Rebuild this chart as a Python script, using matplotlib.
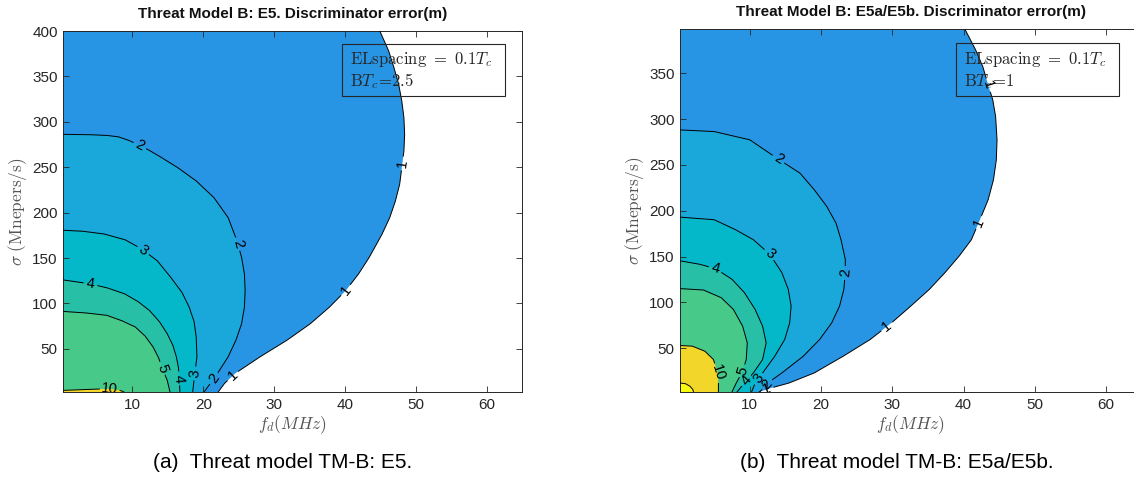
import numpy as np
import matplotlib
matplotlib.use("Agg")
import matplotlib.pyplot as plt
from matplotlib.path import Path
from matplotlib.patches import Polygon, Rectangle
from matplotlib.transforms import IdentityTransform

plt.rcParams["mathtext.fontset"] = "cm"
plt.rcParams["font.family"] = ["Liberation Sans", "DejaVu Sans"]

# ---------------------------------------------------------------- data
FD_TICKS = [10, 20, 30, 40, 50, 60]
SIGMA_TICKS_A = [50, 100, 150, 200, 250, 300, 350, 400]
SIGMA_TICKS_B = [50, 100, 150, 200, 250, 300, 350]
LEVELS = [1, 2, 3, 4, 5, 10, 20]
BAND_COLORS = {1: "#2894e4", 2: "#1aa8da", 3: "#05b8c9", 4: "#27bfa6",
               5: "#47c98a", 10: "#f3d62a", 20: "#f9fa12"}

# E5 (BTc = 2.5): iso-error curves, (f_d [MHz], sigma [Mnepers/s])
E5_C1 = [(44.9, 400), (46.15, 378), (46.9, 359.6), (47.56, 341.3), (48.0, 322.9),
         (48.3, 304.6), (48.4, 286.2), (48.3, 267.9), (48.0, 249.5), (47.7, 231.2),
         (47.1, 212.8), (46.3, 194.5), (45.2, 176.1), (44.7, 169), (43.4, 150.7),
         (41.9, 132.5), (40.1, 114.2), (37.8, 96), (35.1, 77.7), (31.8, 59.5),
         (28.0, 41.2), (24.5, 23), (23.0, 12), (22.1, 2.5)]
E5_C2 = [(0.25, 286.2), (4.0, 285.8), (6.4, 285), (8.0, 283.5), (9.5, 279.5),
         (10.9, 274.5), (12.4, 268.5), (13.9, 261.6), (16.4, 249.5), (19.0, 234.9),
         (21.5, 216.5), (23.5, 194.5), (24.75, 169), (25.4, 150.7), (25.8, 132.5),
         (25.9, 114.2), (25.8, 96), (25.4, 77.7), (24.6, 59.5), (23.5, 41.2),
         (22.0, 23), (21.0, 12), (20.1, 2.5)]
E5_C3 = [(0.25, 180.6), (3.0, 179.5), (6.0, 176.5), (9.0, 170), (11.3, 160),
         (13.5, 147), (15.4, 128.8), (17.0, 112), (18.0, 96), (18.7, 80),
         (19.0, 63), (19.1, 41), (18.8, 23), (18.5, 2.5)]
E5_C4 = [(0.25, 125.9), (4.1, 121.5), (6.5, 117), (8.9, 110.6), (10.8, 102),
         (12.4, 92.3), (13.8, 80), (14.9, 66.8), (15.7, 54), (16.2, 41.2),
         (16.5, 29), (16.6, 17.5), (16.7, 2.5)]
E5_C5 = [(0.25, 91.2), (3.5, 89.5), (6.4, 86.9), (8.5, 81), (10.4, 74.1),
         (11.8, 64), (12.9, 52.2), (13.7, 40), (14.2, 28.5), (14.9, 15.7), (15.3, 2.5)]
E5_C10 = [(0.25, 4.3), (2.0, 4.8), (4.0, 5.4), (5.5, 5.8), (6.8, 5.8),
          (7.8, 5.0), (8.5, 3.6), (8.8, 2.5)]
E5_LABELS = [(2, 10.9, 271.6), (1, 48.2, 254), (2, 24.7, 165), (3, 11.3, 156),
             (4, 4.1, 121.5), (1, 40.2, 114), (5, 14.2, 28.5), (4, 16.6, 17.5),
             (3, 18.7, 23), (2, 21.2, 19), (1, 24.3, 19), (10, 6.8, 5.7)]

# E5a/E5b (BTc = 1)
E5AB_C1 = [(40.2, 398), (41.7, 375.4), (42.7, 357.3), (43.45, 337.3), (44.1, 321),
           (44.5, 302.8), (44.7, 277.4), (44.6, 255.6), (44.2, 233.8), (43.45, 212),
           (42.3, 190.2), (41.1, 168.4), (39.4, 150.7), (37.4, 132.5), (35.2, 114.2),
           (32.6, 96), (29.9, 77.7), (26.9, 59.5), (23.1, 41.2), (19.05, 23),
           (15.5, 12), (13.0, 6.6), (11.3, 2.2)]
E5AB_C2 = [(0.25, 288.2), (5.0, 286.4), (10.0, 277.4), (14.0, 256.3), (17.05, 241),
           (19.05, 222.9), (20.8, 204.7), (22.1, 186.5), (22.8, 168.4), (23.4, 147),
           (23.4, 132.5), (23.2, 114.2), (22.6, 96), (21.5, 77.7), (19.8, 59.5),
           (17.5, 41.2), (14.5, 23), (12.5, 12), (11.4, 2.2)]
E5AB_C3 = [(0.25, 193), (5.0, 190.2), (8.0, 179.3), (10.5, 168.4), (12.8, 152.6),
           (14.5, 132.5), (15.4, 114.2), (15.8, 96), (15.6, 77.7), (14.9, 59.5),
           (13.5, 41.2), (11.8, 23), (10.75, 12), (10.25, 2.2)]
E5AB_C4 = [(0.25, 145.3), (2.95, 141.6), (5.2, 136.9), (7.5, 125.2), (9.25, 110.6),
           (10.75, 92.3), (11.8, 74), (12.3, 55.8), (11.8, 37.6), (10.5, 23),
           (9.25, 12), (8.2, 2.2)]
E5AB_C5 = [(0.25, 115), (3.5, 113.5), (6.0, 105.1), (7.7, 92.3), (9.0, 74),
           (9.65, 55.8), (9.5, 37.6), (9.0, 24.8), (8.1, 12), (7.5, 2.2)]
E5AB_C10 = [(0.25, 52.9), (1.95, 52.2), (3.7, 46.7), (4.9, 37.6), (5.5, 23),
            (5.6, 12), (5.6, 2.2)]
E5AB_C20 = [(0.25, 12), (1.0, 11.2), (1.6, 8.5), (2.0, 5), (2.1, 2.2)]
E5AB_LABELS = [(1, 43.45, 337), (1, 42.2, 187), (1, 29.6, 70), (2, 14.0, 256),
               (2, 23.4, 132), (3, 12.8, 152.6), (4, 5.2, 137), (10, 5.5, 23),
               (5, 9.0, 25), (4, 9.6, 14), (3, 11.0, 18), (2, 12.2, 12), (1, 12.4, 5)]

W, H = 1134, 479
fig = plt.figure(figsize=(W / 100, H / 100), dpi=100)


def px_rect(left, top, right, bottom):
    return [left / W, 1 - bottom / H, (right - left) / W, (bottom - top) / H]


TXT = "#262626"


def snap(disp_pts, p):
    """Nearest point on a polyline (display space) and the local direction."""
    best = None
    for i in range(len(disp_pts) - 1):
        a, b = disp_pts[i], disp_pts[i + 1]
        ab = b - a
        t = np.clip(np.dot(p - a, ab) / np.dot(ab, ab), 0, 1)
        q = a + t * ab
        d = np.hypot(*(p - q))
        if best is None or d < best[0]:
            best = (d, q, ab)
    return best[1], best[2]


def hole(center, r, n=36):
    th = -np.linspace(0, 2 * np.pi, n)  # clockwise -> cut-out
    v = np.column_stack([center[0] + r * np.cos(th), center[1] + r * np.sin(th)])
    return Path(v, closed=True)


def draw_panel(ax, curves, labels, xlim, ylim, yticks, title, box_lines, box):
    ax.set_xlim(*xlim)
    ax.set_ylim(*ylim)
    x0, y0 = xlim[0], ylim[0]

    for lev, pts in curves:
        poly = list(pts) + [(x0, y0), (x0, pts[0][1])]
        ax.add_patch(Polygon(poly, closed=True, facecolor=BAND_COLORS[lev],
                             edgecolor="none", zorder=1))

    T = ax.transData
    bb = ax.bbox
    frame = Path([(bb.x0, bb.y0), (bb.x1, bb.y0), (bb.x1, bb.y1),
                  (bb.x0, bb.y1), (bb.x0, bb.y0)], closed=True)
    by_level = dict(curves)
    cuts = {lev: [] for lev, _ in curves}
    for lev, fx, fy in labels:
        dpts = T.transform(np.array(by_level[lev], float))
        q, ab = snap(dpts, T.transform((fx, fy)))
        ang = np.degrees(np.arctan2(ab[1], ab[0]))
        if ang > 90:
            ang -= 180
        elif ang < -90:
            ang += 180
        qd = T.inverted().transform(q)
        ax.text(qd[0], qd[1], str(lev), rotation=ang, rotation_mode="anchor",
                ha="center", va="center", fontsize=10.5, color="black",
                zorder=4, clip_on=True)
        cuts[lev].append(hole(q, 10 if lev >= 10 else 7))

    for lev, pts in curves:
        xs, ys = zip(*pts)
        ln, = ax.plot(xs, ys, color="black", lw=0.7, zorder=3)
        clip = Path.make_compound_path(frame, *cuts[lev])
        ln.set_clip_path(clip, IdentityTransform())

    ax.set_xticks(FD_TICKS)
    ax.set_yticks(yticks)
    ax.tick_params(direction="in", top=True, right=True, length=4.5, width=0.6,
                   colors=TXT, labelsize=11, pad=4)
    for s in ax.spines.values():
        s.set_color(TXT)
        s.set_linewidth(0.7)
    ax.set_axisbelow(False)
    ax.set_xlabel(r"$f_d(MHz)$", fontsize=12.5, color="#555555", labelpad=1)
    ax.set_ylabel(r"$\sigma\ (\mathrm{Mnepers/s})$", fontsize=12.5,
                  color="#555555", labelpad=2)
    ax.set_title(title, fontsize=11, fontweight="bold", color="#111111", pad=9.5)

    bx0, by0, bx1, by1 = box
    ax.add_patch(Rectangle((bx0, by0), bx1 - bx0, by1 - by0, transform=ax.transAxes,
                           fill=False, edgecolor=TXT, lw=0.8, zorder=5, clip_on=False))
    ax.text(bx0 + 0.018, by1 - 0.045, box_lines[0], transform=ax.transAxes,
            fontsize=12, color=TXT, ha="left", va="center", zorder=6)
    ax.text(bx0 + 0.018, by1 - 0.105, box_lines[1], transform=ax.transAxes,
            fontsize=12, color=TXT, ha="left", va="center", zorder=6)


ax_a = fig.add_axes(px_rect(63.3, 31, 522.3, 392))
ax_b = fig.add_axes(px_rect(680.3, 29.3, 1141.7, 392))

curves_a = [(1, E5_C1), (2, E5_C2), (3, E5_C3), (4, E5_C4), (5, E5_C5), (10, E5_C10)]
curves_b = [(1, E5AB_C1), (2, E5AB_C2), (3, E5AB_C3), (4, E5AB_C4), (5, E5AB_C5),
            (10, E5AB_C10), (20, E5AB_C20)]

draw_panel(ax_a, curves_a, E5_LABELS, (0.25, 65), (2.5, 400), SIGMA_TICKS_A,
           "Threat Model B: E5. Discriminator error(m)",
           (r"$\mathrm{ELspacing}\ =\ 0.1T_c$", r"$\mathrm{B}T_c\!\mathrm{=}\!2.5$"),
           (0.607, 0.821, 0.963, 0.965))
draw_panel(ax_b, curves_b, E5AB_LABELS, (0.25, 65), (2.2, 398), SIGMA_TICKS_B,
           "Threat Model B: E5a/E5b. Discriminator error(m)",
           (r"$\mathrm{ELspacing}\ =\ 0.1T_c$", r"$\mathrm{B}T_c\!\mathrm{=}\!1$"),
           (0.597, 0.817, 0.950, 0.961))

fig.text(283 / W, 1 - 463 / H, "(a)  Threat model TM-B: E5.", ha="center",
         va="center", fontsize=15, color="black")
fig.text(897 / W, 1 - 463 / H, "(b)  Threat model TM-B: E5a/E5b.", ha="center",
         va="center", fontsize=15, color="black")

fig.savefig("out.png", dpi=100)
